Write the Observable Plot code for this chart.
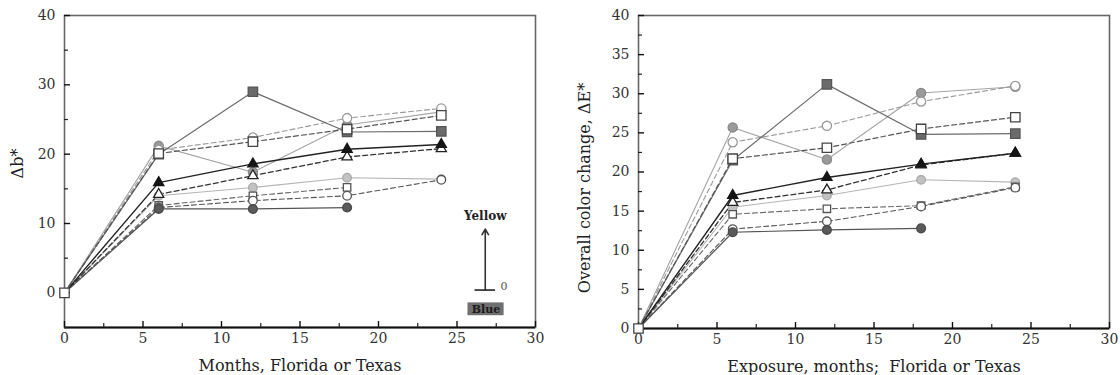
<!DOCTYPE html>
<html><head><meta charset="utf-8">
<script src="https://cdn.jsdelivr.net/npm/d3@7"></script>
<script src="https://cdn.jsdelivr.net/npm/@observablehq/plot@0.6"></script>
<style>
body{margin:0;background:#fff;}
#wrap{display:flex;width:1120px;height:375px;overflow:hidden;}
#wrap svg{flex:none;}
</style></head><body><div id="wrap"></div>
<script>
// ---------- data ----------
const months = [0, 6, 12, 18, 24];

// Left panel: Δb*
const dbFilledSquare   = [0, 20.0, 29.0, 23.2, 23.3];
const dbOpenSquare     = [0, 20.1, 21.8, 23.6, 25.6];
const dbOpenCircle     = [0, 20.6, 22.4, 25.2, 26.6];
const dbGrayCircle     = [0, 21.2, 17.4, 24.2, 26.1];
const dbFilledTriangle = [0, 15.9, 18.6, 20.7, 21.4];
const dbOpenTriangle   = [0, 14.2, 16.9, 19.6, 20.8];
const dbLightCircle    = [0, 14.0, 15.2, 16.6, 16.4];
const dbOpenSquare2    = [0, 12.6, 14.0, 15.2, null];
const dbOpenCircle2    = [0, 12.3, 13.3, 14.0, 16.3];
const dbFilledCircle   = [0, 12.1, 12.1, 12.3, null];

// Right panel: ΔE*
const deFilledSquare   = [0, 21.5, 31.2, 24.8, 24.9];
const deOpenSquare     = [0, 21.7, 23.1, 25.5, 27.0];
const deOpenCircle     = [0, 23.8, 25.9, 29.0, 31.0];
const deGrayCircle     = [0, 25.7, 21.6, 30.1, 30.9];
const deFilledTriangle = [0, 17.0, 19.3, 21.0, 22.4];
const deOpenTriangle   = [0, 16.1, 17.7, 20.9, 22.4];
const deLightCircle    = [0, 15.5, 17.0, 19.0, 18.7];
const deOpenSquare2    = [0, 14.6, 15.3, 15.7, 18.1];
const deOpenCircle2    = [0, 12.7, 13.7, 15.6, 18.0];
const deFilledCircle   = [0, 12.3, 12.6, 12.8, null];

const xTickLabels = [0, 5, 10, 15, 20, 25, 30];
const xMinorTicks = [2.5, 7.5, 12.5, 17.5, 22.5, 27.5];
const leftYTickLabels = [0, 10, 20, 30, 40];
const leftYMinorTicks = [-5, 5, 15, 25, 35];
const rightYTickLabels = [0, 5, 10, 15, 20, 25, 30, 35, 40];
const rightYMinorTicks = [2.5, 7.5, 12.5, 17.5, 22.5, 27.5, 32.5, 37.5];

// key annotation in the left panel (data coordinates)
const keyX = 26.8, keyArrowBottom = 0.4, keyArrowTop = 9.2, keyYellowY = 11.1, keyZeroX = 28.0;
const keyBlueX1 = 25.7, keyBlueX2 = 28.0, keyBlueY1 = -3.3, keyBlueY2 = -1.45;

// ---------- styles ----------
const styles = {
  fs:  {symbol: "square",   r: 5.3, fill: "#6b6b6b", dot: "#555", line: "#6b6b6b", dash: null,  w: 1.2},
  os:  {symbol: "square",   r: 5.3, fill: "#fff",    dot: "#444", line: "#555",    dash: "5,3", w: 1.2},
  oc:  {symbol: "circle",   r: 4.6, fill: "#fff",    dot: "#999", line: "#999",    dash: "5,3", w: 1.1},
  gc:  {symbol: "circle",   r: 4.6, fill: "#9a9a9a", dot: "#8a8a8a", line: "#a5a5a5", dash: null, w: 1.1},
  ft:  {symbol: "triangle", r: 3.8, fill: "#151515", dot: "#151515", line: "#222", dash: null,  w: 1.4},
  ot:  {symbol: "triangle", r: 3.8, fill: "#fff",    dot: "#222", line: "#333",    dash: "5,3", w: 1.3},
  lc:  {symbol: "circle",   r: 4.3, fill: "#c2c2c2", dot: "#aaa", line: "#b5b5b5", dash: null,  w: 1.1},
  os2: {symbol: "square",   r: 4.2, fill: "#fff",    dot: "#555", line: "#666",    dash: "5,3", w: 1.1},
  oc2: {symbol: "circle",   r: 4.3, fill: "#fff",    dot: "#555", line: "#555",    dash: "5,3", w: 1.1},
  fc:  {symbol: "circle",   r: 4.4, fill: "#5a5a5a", dot: "#4a4a4a", line: "#555", dash: null,  w: 1.2}
};
const order = ["lc", "gc", "oc", "os2", "oc2", "fc", "ot", "ft", "fs", "os"];

const leftSeries = {fs: dbFilledSquare, os: dbOpenSquare, oc: dbOpenCircle, gc: dbGrayCircle,
  ft: dbFilledTriangle, ot: dbOpenTriangle, lc: dbLightCircle, os2: dbOpenSquare2, oc2: dbOpenCircle2, fc: dbFilledCircle};
const rightSeries = {fs: deFilledSquare, os: deOpenSquare, oc: deOpenCircle, gc: deGrayCircle,
  ft: deFilledTriangle, ot: deOpenTriangle, lc: deLightCircle, os2: deOpenSquare2, oc2: deOpenCircle2, fc: deFilledCircle};

function rowsOf(values) {
  const rows = [];
  values.forEach((v, i) => { if (v != null) rows.push({x: months[i], y: v}); });
  return rows;
}

function seriesMarks(series) {
  const marks = [];
  for (const k of order) {
    const s = styles[k];
    marks.push(Plot.line(rowsOf(series[k]), {x: "x", y: "y", stroke: s.line, strokeWidth: s.w,
      strokeDasharray: s.dash || undefined}));
  }
  for (const k of order) {
    const s = styles[k];
    const rows = rowsOf(series[k]).filter(d => d.x > 0);
    marks.push(Plot.dot(rows, {x: "x", y: "y", symbol: () => s.symbol, r: s.r, fill: s.fill,
      stroke: s.dot, strokeWidth: 1.3}));
  }
  const o = styles.os;
  marks.push(Plot.dot(rowsOf(series.os).filter(d => d.x === 0), {x: "x", y: "y", symbol: () => "square",
    r: o.r, fill: "#fff", stroke: o.dot, strokeWidth: 1.3}));
  return marks;
}

const font = {fontFamily: "'DejaVu Serif', serif", fontSize: "14px", color: "#333", background: "#fff"};

function makePanel({series, yDomain, yTicks, yMinor, marginLeft, marginRight, marginBottom, yLabel, xLabel, ylDx, ylDy, extra}) {
  const W = 560, H = 375, mt = 15;
  const ph = H - mt - marginBottom, pw = W - marginLeft - marginRight;
  return Plot.plot({
    width: W, height: H, marginLeft, marginRight, marginTop: mt, marginBottom,
    style: font,
    x: {domain: [0, 30]},
    y: {domain: yDomain},
    marks: [
      Plot.frame({stroke: "#666", strokeWidth: 1.6}),
      Plot.ruleY([yDomain[0]], {stroke: "#111", strokeWidth: 2}),
      Plot.ruleX(xTickLabels, {x: d => d, insetTop: ph - 6, stroke: "#111", strokeWidth: 1.4}),
      Plot.ruleX(xMinorTicks, {x: d => d, insetTop: ph - 4, stroke: "#222", strokeWidth: 1.2}),
      Plot.ruleY(yTicks, {y: d => d, insetRight: pw - 6, stroke: "#111", strokeWidth: 1.4}),
      Plot.ruleY(yMinor, {y: d => d, insetRight: pw - 4, stroke: "#222", strokeWidth: 1.2}),
      Plot.axisX(xTickLabels, {tickSize: 0, tickPadding: 6, label: null, fill: "#333"}),
      Plot.axisY(yTicks, {tickSize: 0, tickPadding: 9, label: null, fill: "#333"}),
      ...seriesMarks(series),
      ...(extra || []),
      Plot.text([xLabel], {frameAnchor: "bottom", dy: 38, fontSize: 16, fill: "#222", lineAnchor: "middle"}),
      Plot.text([yLabel], {frameAnchor: "left", dx: ylDx, dy: ylDy, rotate: -90, fontSize: 16, fill: "#222",
        lineAnchor: "middle", textAnchor: "middle"})
    ]
  });
}

const keyMarks = [
  Plot.arrow([0], {x1: () => keyX, x2: () => keyX, y1: () => keyArrowBottom, y2: () => keyArrowTop,
    stroke: "#333", strokeWidth: 1.6, headLength: 6}),
  Plot.ruleY([keyArrowBottom], {x1: keyX - 0.65, x2: keyX + 0.65, stroke: "#222", strokeWidth: 1.6}),
  Plot.text(["Yellow"], {x: keyX, y: keyYellowY, fontWeight: "bold", fontSize: 12, fill: "#222"}),
  Plot.text(["0"], {x: keyZeroX, y: keyArrowBottom + 0.5, fontSize: 11, fill: "#555"}),
  Plot.rect([0], {x1: () => keyBlueX1, x2: () => keyBlueX2, y1: () => keyBlueY1, y2: () => keyBlueY2, fill: "#707070"}),
  Plot.text(["Blue"], {x: (keyBlueX1 + keyBlueX2) / 2, y: (keyBlueY1 + keyBlueY2) / 2, fontWeight: "bold", fontSize: 11, fill: "#1a1a1a"})
];

const left = makePanel({series: leftSeries, yDomain: [-5, 40], yTicks: leftYTickLabels, yMinor: leftYMinorTicks,
  marginLeft: 64, marginRight: 25, marginBottom: 48, yLabel: "Δb*", xLabel: "Months, Florida or Texas",
  ylDx: -47, ylDy: -8, extra: keyMarks});
const right = makePanel({series: rightSeries, yDomain: [0, 40], yTicks: rightYTickLabels, yMinor: rightYMinorTicks,
  marginLeft: 78, marginRight: 11, marginBottom: 47, yLabel: "Overall color change, ΔE*", xLabel: "Exposure, months;  Florida or Texas",
  ylDx: -54, ylDy: 16});

document.getElementById("wrap").append(left, right);
</script></body></html>
